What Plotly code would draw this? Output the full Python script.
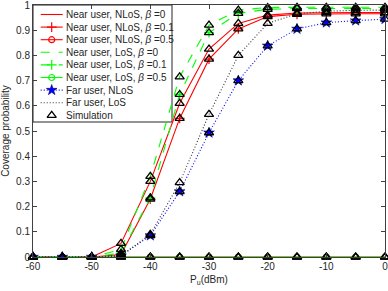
import plotly.graph_objects as go

# ---- data ----
pu = [-60, -55, -50, -45, -40, -35, -30, -25, -20, -15, -10, -5, 0]

near_nlos_b0 = [0, 0, 0, 0.054, 0.30, 0.61, 0.825, 0.927, 0.960, 0.968, 0.970, 0.970, 0.970]
near_nlos_b01 = [0, 0, 0, 0.010, 0.23, 0.55, 0.785, 0.905, 0.954, 0.963, 0.965, 0.965, 0.965]
near_nlos_b05 = [0] * 13
near_los_b0 = [0, 0, 0, 0.030, 0.32, 0.715, 0.920, 0.980, 0.990, 0.991, 0.991, 0.991, 0.991]
near_los_b01 = [0, 0, 0, 0.015, 0.235, 0.645, 0.890, 0.967, 0.983, 0.986, 0.986, 0.986, 0.986]
near_los_b05 = [0] * 13
far_nlos = [0, 0, 0, 0.005, 0.085, 0.26, 0.493, 0.70, 0.838, 0.905, 0.930, 0.938, 0.944]
far_los = [0, 0, 0, 0.005, 0.09, 0.295, 0.566, 0.80, 0.927, 0.965, 0.975, 0.979, 0.980]

legend_labels = [
    "Near user, NLoS, <i>β</i> =0",
    "Near user, NLoS, <i>β</i> =0.1",
    "Near user, NLoS, <i>β</i> =0.5",
    "Near user, LoS, <i>β</i> =0",
    "Near user, LoS, <i>β</i> =0.1",
    "Near user, LoS, <i>β</i> =0.5",
    "Far user, NLoS",
    "Far user, LoS",
    "Simulation",
]

x_ticks = [-60, -50, -40, -30, -20, -10, 0]
y_ticks = [0, 0.1, 0.2, 0.3, 0.4, 0.5, 0.6, 0.7, 0.8, 0.9, 1]

RED = "#ff0000"
GREEN = "#00ff00"
BLUE = "#0000ff"
BLACK = "#000000"
DOT = "1px,2px"

styles = [
    (near_nlos_b0, RED, "solid", None),
    (near_nlos_b01, RED, "solid", "cross-thin"),
    (near_nlos_b05, RED, "solid", "circle-open"),
    (near_los_b0, GREEN, "dash", None),
    (near_los_b01, GREEN, "dash", "cross-thin"),
    (near_los_b05, GREEN, "solid", "circle-open"),
    (far_nlos, BLUE, DOT, "star"),
    (far_los, "#333333", DOT, None),
]

FONT = "Liberation Sans, Arial"
fig = go.Figure()

# legend box (below traces, white fill)
fig.add_shape(type="rect", xref="x2", yref="y2", x0=0, x1=139, y0=0, y1=117,
              line=dict(color="#262626", width=1), fillcolor="white", layer="below")


def marker_for(sym, color):
    if sym is None:
        return dict(size=1, opacity=0)
    if sym == "star":
        return dict(symbol="star", size=8, color=color, line=dict(color="#000080", width=0.6))
    if sym == "cross-thin":
        return dict(symbol="cross-thin", size=7, color=color, line=dict(color=color, width=1.2))
    return dict(symbol=sym, size=6, color=color, line=dict(color=color, width=1.2))


for ys, color, dash, sym in styles:
    fig.add_trace(go.Scatter(
        x=pu, y=ys, mode="lines+markers" if sym else "lines",
        line=dict(color=color, width=1.1, dash=dash),
        marker=marker_for(sym, color), showlegend=False, hoverinfo="skip"))

# simulation triangles on every series
sim_x, sim_y = [], []
for ys, _, _, _ in styles:
    sim_x += pu
    sim_y += ys
fig.add_trace(go.Scatter(
    x=sim_x, y=sim_y, mode="markers",
    marker=dict(symbol="triangle-up-open", size=8, color=BLACK, line=dict(color=BLACK, width=1.3)),
    showlegend=False, hoverinfo="skip", cliponaxis=False))

# ---- manual legend (overlay axes in plot-pixel units) ----
row0, dy = 9.5, 12.6
x0, x1, xm = 7.7, 29.7, 18.7
leg_styles = [(c, d, s) for _, c, d, s in styles] + [(BLACK, None, "triangle-up-open")]
for i, (lab, (color, dash, sym)) in enumerate(zip(legend_labels, leg_styles)):
    yy = row0 + dy * i
    if dash is not None:
        fig.add_trace(go.Scatter(x=[x0, x1], y=[yy, yy], xaxis="x2", yaxis="y2", mode="lines",
                                 line=dict(color=color, width=1.1, dash=dash),
                                 showlegend=False, hoverinfo="skip"))
    if sym is not None:
        if sym == "triangle-up-open":
            mk = dict(symbol=sym, size=8, color=BLACK, line=dict(color=BLACK, width=1.3))
        else:
            mk = marker_for(sym, color)
        fig.add_trace(go.Scatter(x=[xm], y=[yy], xaxis="x2", yaxis="y2", mode="markers",
                                 marker=mk, showlegend=False, hoverinfo="skip"))
    fig.add_annotation(x=30.5, y=yy, xref="x2", yref="y2", text=lab, showarrow=False,
                       xanchor="left", yanchor="middle",
                       font=dict(family=FONT, size=10, color="#262626"))

axis_common = dict(showgrid=False, zeroline=False, showline=True, linecolor="#404040",
                   linewidth=1, mirror="allticks", ticks="inside", ticklen=4,
                   tickcolor="#404040", automargin=False, ticklabeloverflow="allow",
                   tickfont=dict(family=FONT, size=10, color="#262626"))

fig.update_layout(
    width=388, height=291,
    margin=dict(l=33, r=3, t=5, b=34),
    paper_bgcolor="white", plot_bgcolor="white",
    xaxis=dict(range=[-60, 0], tickvals=x_ticks, ticktext=[str(v) for v in x_ticks],
               title=dict(text="P<sub>u</sub>(dBm)", standoff=4,
                          font=dict(family=FONT, size=10, color="#262626")),
               **axis_common),
    yaxis=dict(range=[0, 1], tickvals=y_ticks, ticktext=[("%g" % v) for v in y_ticks],
               title=dict(text="Coverage probability", standoff=5,
                          font=dict(family=FONT, size=10, color="#262626")),
               **axis_common),
    xaxis2=dict(overlaying="x", range=[0, 352], visible=False, anchor="y2", automargin=False),
    yaxis2=dict(overlaying="y", range=[252, 0], visible=False, anchor="x2", automargin=False),
    showlegend=False,
)

fig.write_html("out.html", config={"displayModeBar": False},
               post_script="document.body.style.margin='0';document.body.style.padding='0';")
